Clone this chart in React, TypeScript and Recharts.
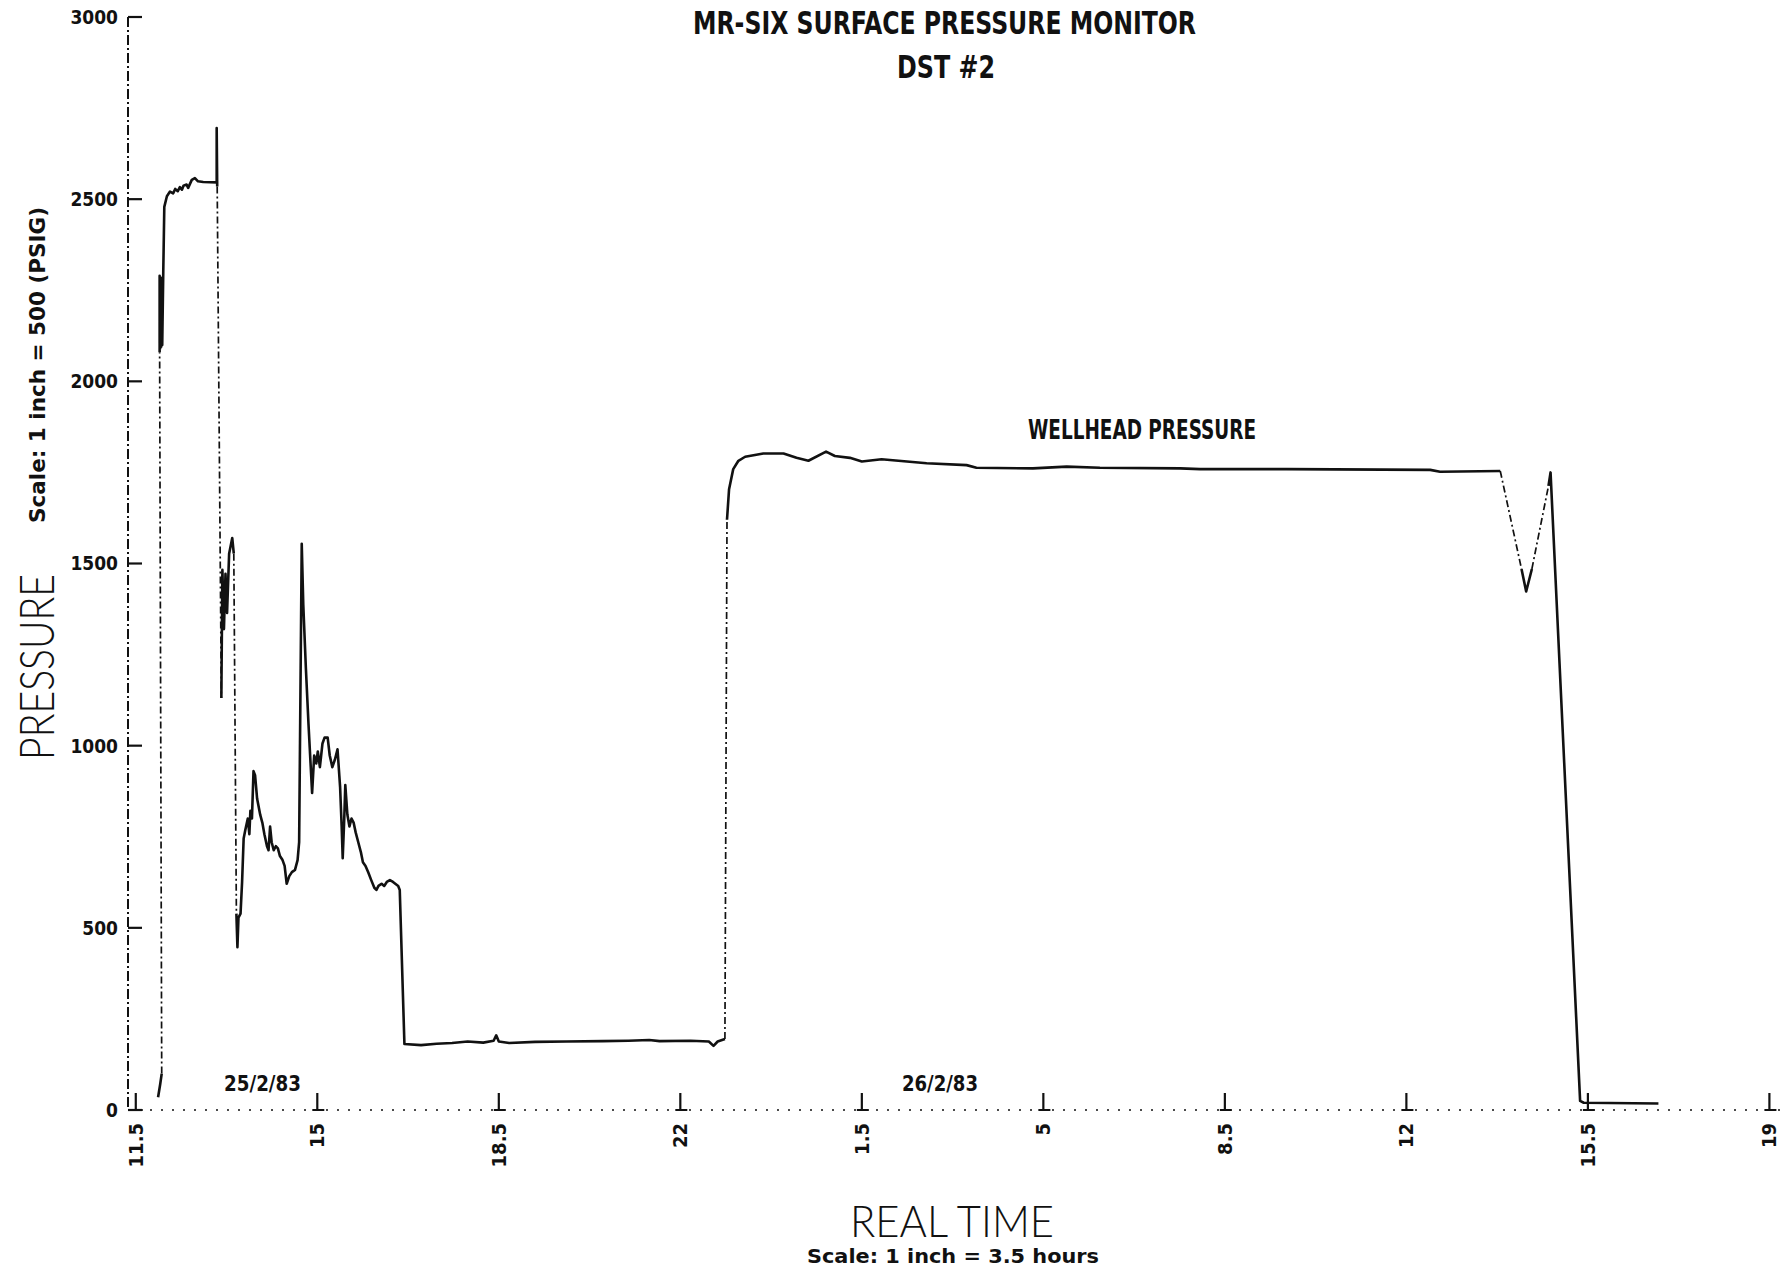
import React from 'react';
import { LineChart, Line, XAxis, YAxis } from 'recharts';

type Pt = [number, number];

// time in hours counted from midnight 25/2/83 (25.5 = 01:30 on 26/2/83)
const xTicks = [11.5, 15, 18.5, 22, 25.5, 29, 32.5, 36, 39.5, 43];
const xTickLabels = ['11.5', '15', '18.5', '22', '1.5', '5', '8.5', '12', '15.5', '19'];
const yTicks = [0, 500, 1000, 1500, 2000, 2500, 3000];

// wellhead pressure (psig), solid pen runs
const openStart: Pt[] = [[11.93, 35], [11.97, 70], [12.0, 100]];
const firstFlow: Pt[] = [
  [11.96, 2080], [11.96, 2290], [11.97, 2090], [11.98, 2285], [11.99, 2095], [12.0, 2280],
  [12.01, 2100], [12.03, 2300], [12.05, 2479], [12.1, 2508], [12.16, 2521], [12.22, 2516],
  [12.26, 2528], [12.31, 2522], [12.35, 2533], [12.39, 2526], [12.42, 2537], [12.48, 2540],
  [12.51, 2531], [12.58, 2553], [12.64, 2558], [12.7, 2549], [12.8, 2547], [13.06, 2546],
  [13.06, 2695], [13.07, 2535],
];
const surge: Pt[] = [
  [13.15, 1131], [13.17, 1483], [13.2, 1320], [13.23, 1472], [13.26, 1364], [13.3, 1527],
  [13.36, 1570], [13.39, 1527],
];
const mainFlow: Pt[] = [
  [13.44, 539], [13.46, 447], [13.48, 528], [13.52, 539], [13.55, 626], [13.58, 745],
  [13.61, 767], [13.66, 800], [13.69, 757], [13.71, 821], [13.74, 800], [13.77, 930],
  [13.8, 919], [13.84, 854], [13.9, 810], [13.94, 789], [13.98, 757], [14.03, 724],
  [14.06, 713], [14.09, 778], [14.12, 735], [14.16, 713], [14.2, 724], [14.24, 718],
  [14.28, 697], [14.33, 686], [14.37, 670], [14.41, 621], [14.46, 642], [14.51, 653],
  [14.57, 659], [14.62, 686], [14.65, 735], [14.7, 1554], [14.73, 1386], [14.78, 1212],
  [14.83, 1060], [14.9, 870], [14.94, 973], [14.98, 951], [15.01, 984], [15.05, 941],
  [15.1, 1006], [15.14, 1022], [15.2, 1022], [15.24, 973], [15.29, 941], [15.34, 962],
  [15.39, 990], [15.44, 886], [15.47, 778], [15.49, 691], [15.52, 800], [15.54, 892],
  [15.58, 811], [15.62, 778], [15.66, 800], [15.7, 789], [15.74, 762], [15.79, 735],
  [15.84, 708], [15.88, 680], [15.93, 670], [15.98, 653], [16.04, 631], [16.1, 610],
  [16.14, 604], [16.18, 615], [16.24, 621], [16.29, 615], [16.34, 626], [16.4, 631],
  [16.46, 626], [16.56, 615], [16.59, 604], [16.68, 181],
  // shut-in
  [17.0, 178], [17.3, 182], [17.6, 184], [17.9, 188], [18.2, 185], [18.4, 190], [18.45, 205],
  [18.5, 188], [18.7, 184], [19.2, 187], [19.8, 188], [20.5, 189], [21.0, 190], [21.4, 192],
  [21.6, 189], [22.2, 190], [22.55, 188], [22.64, 176], [22.72, 188], [22.86, 195],
];
const buildUp: Pt[] = [
  [22.9, 1620], [22.94, 1704], [23.02, 1759], [23.12, 1782], [23.25, 1793], [23.6, 1802],
  [23.99, 1802], [24.24, 1790], [24.47, 1782], [24.81, 1807], [24.98, 1795], [25.27, 1790],
  [25.5, 1780], [25.88, 1786], [26.75, 1775], [27.52, 1770], [27.71, 1763], [28.8, 1761],
  [29.45, 1766], [30.09, 1763], [31.64, 1761], [32.02, 1759], [33.69, 1759], [36.46, 1757],
  [36.65, 1752], [37.81, 1754],
];
const dip: Pt[] = [[38.22, 1485], [38.31, 1423], [38.42, 1485]];
const bleedOff: Pt[] = [[38.74, 1713], [38.78, 1750], [39.35, 25], [39.42, 20], [40.86, 18]];

// fast pen moves drawn broken
const jumps: Pt[][] = [
  [[12.0, 100], [11.96, 2080]],
  [[13.07, 2535], [13.15, 1131]],
  [[13.39, 1527], [13.44, 539]],
  [[22.86, 195], [22.9, 1620]],
  [[37.81, 1754], [38.22, 1485]],
  [[38.42, 1485], [38.74, 1713]],
];
const solids: Pt[][] = [openStart, firstFlow, surge, mainFlow, buildUp, dip, bleedOff];

const toRows = (pts: Pt[]) => pts.map(([t, p]) => ({ t, p }));

const INK = '#111';
const FONT = "'DejaVu Sans Condensed', 'DejaVu Sans', sans-serif";
const THIN = "Lato, 'DejaVu Sans', sans-serif";
const W = 1792;
const H = 1270;

const XTick = (props: any) => {
  const { x, y, payload } = props;
  const label = xTickLabels[xTicks.indexOf(payload.value)];
  return (
    <g>
      <line x1={x} y1={y} x2={x} y2={y - 17} stroke={INK} strokeWidth={2.2} />
      <line x1={x - 5} y1={y} x2={x + 7} y2={y} stroke={INK} strokeWidth={2} />
      <text
        transform={`translate(${x + 7},${y + 13}) rotate(-90)`}
        textAnchor="end"
        fontFamily={FONT}
        fontWeight="bold"
        fontSize={20}
        fill={INK}
      >
        {label}
      </text>
    </g>
  );
};

const YTick = (props: any) => {
  const { x, y, payload } = props;
  return (
    <g>
      <line x1={x} y1={y} x2={x + 14} y2={y} stroke={INK} strokeWidth={2.2} />
      <text
        x={x - 10}
        y={y}
        dy="0.36em"
        textAnchor="end"
        fontFamily={FONT}
        fontWeight="bold"
        fontSize={19}
        fill={INK}
      >
        {payload.value}
      </text>
    </g>
  );
};

const App = () => {
  return (
    <div style={{ position: 'absolute', left: 0, top: 0, width: W, height: H, background: '#fff' }}>
      <LineChart width={W} height={H} margin={{ top: 17, right: 6, bottom: 100, left: 68 }}>
        <XAxis
          type="number"
          dataKey="t"
          domain={[11.35, 43.32]}
          ticks={xTicks}
          allowDataOverflow
          height={60}
          tickSize={0}
          tickMargin={0}
          tickLine={false}
          axisLine={{ stroke: INK, strokeWidth: 1.6, strokeDasharray: '2 9' }}
          tick={<XTick />}
        />
        <YAxis
          type="number"
          dataKey="p"
          domain={[0, 3000]}
          ticks={yTicks}
          width={60}
          tickSize={0}
          tickMargin={0}
          tickLine={false}
          axisLine={{ stroke: INK, strokeWidth: 2, strokeDasharray: '10 3 2 3' }}
          tick={<YTick />}
        />
        {solids.map((seg, i) => (
          <Line
            key={`s${i}`}
            data={toRows(seg)}
            dataKey="p"
            type="linear"
            stroke={INK}
            strokeWidth={2.6}
            strokeLinejoin="round"
            dot={false}
            activeDot={false}
            isAnimationActive={false}
          />
        ))}
        {jumps.map((seg, i) => (
          <Line
            key={`j${i}`}
            data={toRows(seg)}
            dataKey="p"
            type="linear"
            stroke={INK}
            strokeWidth={1.7}
            strokeDasharray="7 3 2 3"
            dot={false}
            activeDot={false}
            isAnimationActive={false}
          />
        ))}
      </LineChart>
      <svg
        width={W}
        height={H}
        style={{ position: 'absolute', left: 0, top: 0, pointerEvents: 'none' }}
      >
        <g fontFamily={FONT} fill={INK}>
          <text x={944.5} y={34} textAnchor="middle" fontSize={32} fontWeight="bold" textLength={503} lengthAdjust="spacingAndGlyphs">
            MR-SIX SURFACE PRESSURE MONITOR
          </text>
          <text x={946} y={78} textAnchor="middle" fontSize={32} fontWeight="bold" textLength={98} lengthAdjust="spacingAndGlyphs">
            DST #2
          </text>
          <text x={1142} y={439} textAnchor="middle" fontSize={26} fontWeight="bold" textLength={228} lengthAdjust="spacingAndGlyphs">
            WELLHEAD PRESSURE
          </text>
          <text transform="translate(54,667) rotate(-90)" textAnchor="middle" fontFamily={THIN} fontSize={48} fontWeight={300} textLength={186} lengthAdjust="spacingAndGlyphs">
            PRESSURE
          </text>
          <text transform="translate(45,365) rotate(-90)" textAnchor="middle" fontSize={22} fontWeight="bold" textLength={316} lengthAdjust="spacingAndGlyphs">
            Scale: 1 inch = 500 (PSIG)
          </text>
          <text x={952} y={1237} textAnchor="middle" fontFamily={THIN} fontSize={44} fontWeight={300} textLength={204} lengthAdjust="spacingAndGlyphs">
            REAL TIME
          </text>
          <text x={953} y={1263} textAnchor="middle" fontSize={20} fontWeight="bold" textLength={292} lengthAdjust="spacingAndGlyphs">
            Scale: 1 inch = 3.5 hours
          </text>
          <text x={262.5} y={1091} textAnchor="middle" fontSize={22} fontWeight="bold" textLength={77} lengthAdjust="spacingAndGlyphs">
            25/2/83
          </text>
          <text x={940} y={1091} textAnchor="middle" fontSize={22} fontWeight="bold" textLength={76} lengthAdjust="spacingAndGlyphs">
            26/2/83
          </text>
        </g>
      </svg>
    </div>
  );
};

export default App;
